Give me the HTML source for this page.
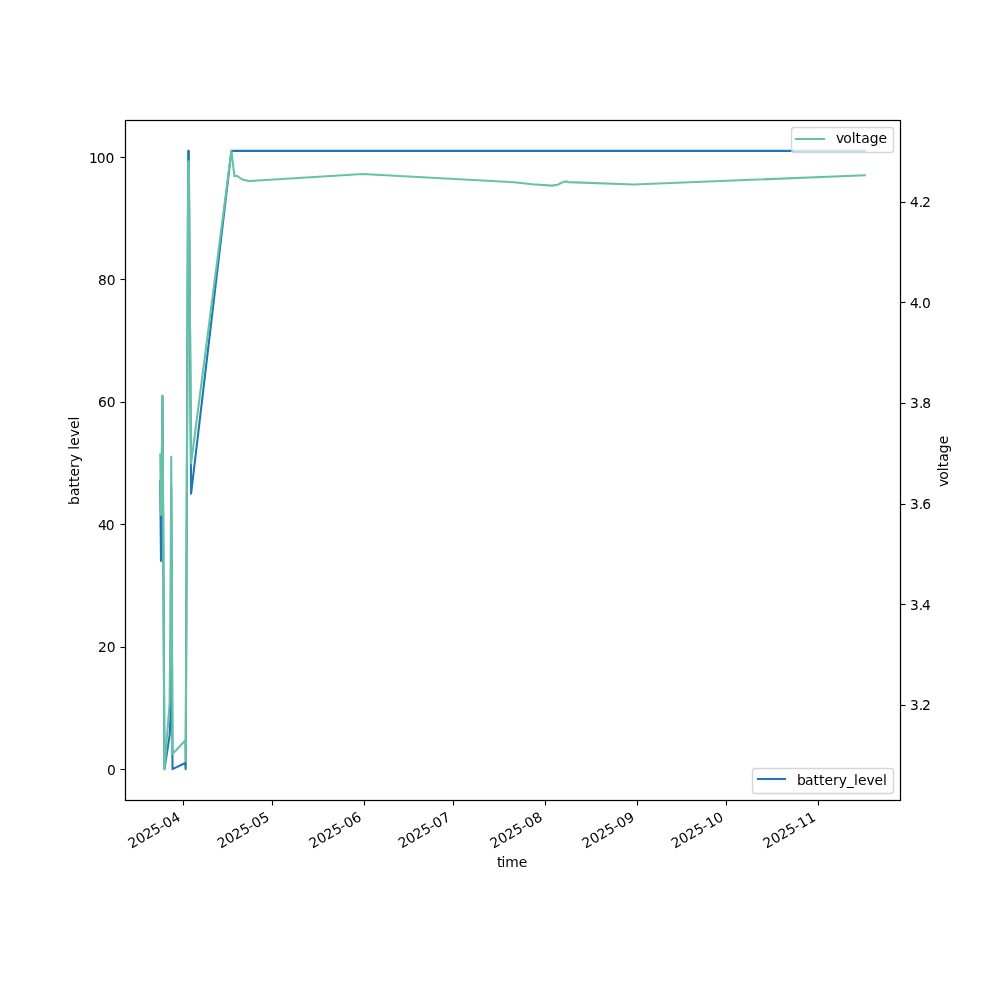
<!DOCTYPE html>
<html lang="en"><head><meta charset="utf-8"><title>battery level / voltage</title>
<style>html,body{margin:0;padding:0;background:#fff;width:1000px;height:1000px;overflow:hidden}svg{display:block}text{font-family:'DejaVu Sans','Liberation Sans',sans-serif;font-size:13.889px;fill:#000}</style>
</head><body>
<svg width="1000" height="1000" viewBox="0 0 1000 1000">
<rect width="1000" height="1000" fill="#fff"/>
<defs><clipPath id="ax"><rect x="125" y="120" width="775" height="680"/></clipPath></defs>
<!-- left / bottom axis -->
<g stroke="#000" stroke-width="1.111" fill="none">
<path d="M183.5 800.5v5.00"/>
<path d="M272.5 800.5v5.00"/>
<path d="M364.5 800.5v5.00"/>
<path d="M453.5 800.5v5.00"/>
<path d="M545.5 800.5v5.00"/>
<path d="M637.5 800.5v5.00"/>
<path d="M726.5 800.5v5.00"/>
<path d="M818.5 800.5v5.00"/>
<path d="M125.5 769.5h-5.00"/>
<path d="M125.5 647.5h-5.00"/>
<path d="M125.5 524.5h-5.00"/>
<path d="M125.5 402.5h-5.00"/>
<path d="M125.5 279.5h-5.00"/>
<path d="M125.5 157.5h-5.00"/>
</g>
<text class="r" transform="translate(131.36 848.77) rotate(-30)" x="0.25 9.06 17.89 26.47 35.05 40.06 48.89">2025-04</text>
<text class="r" transform="translate(220.47 848.76) rotate(-30)" x="0.25 9.06 17.64 26.47 34.8 39.81 48.89">2025-05</text>
<text class="r" transform="translate(312.46 848.74) rotate(-30)" x="0 9.06 17.64 26.47 34.8 40.06 48.89">2025-06</text>
<text class="r" transform="translate(401.33 848.74) rotate(-30)" x="0.5 9.06 17.89 26.72 35.05 40.06 49.14">2025-07</text>
<text class="r" transform="translate(493.37 848.79) rotate(-30)" x="0.25 9.06 17.64 26.47 35.05 40.06 48.89">2025-08</text>
<text class="r" transform="translate(585.38 848.78) rotate(-30)" x="0.25 9.06 17.64 26.47 35.05 40.06 48.89">2025-09</text>
<text class="r" transform="translate(674.48 848.78) rotate(-30)" x="0.25 9.06 17.64 26.47 35.05 40.06 48.89">2025-10</text>
<text class="r" transform="translate(766.38 848.84) rotate(-30)" x="0.25 9.06 17.89 26.47 35.05 40.31 49.14">2025-11</text>
<text x="497.01 501.45 505.29 518.81" y="866.70">time</text>
<text x="106.99" y="774.64">0</text>
<text x="98.06 106.87" y="651.71">20</text>
<text x="97.96 105.77" y="529.61">40</text>
<text x="98.06 106.87" y="406.70">60</text>
<text x="98.12 106.68" y="284.58">80</text>
<text x="89.07 96.64 105.46" y="162.52">100</text>
<text class="r" transform="translate(78.74 460.74) rotate(-90)" x="-44.27 -35.23 -26.73 -21.27 -15.84 -7.3 -1.6 6.62 11.02 14.88 23.41 31.87 40.16">battery level</text>
<!-- battery_level series -->
<g clip-path="url(#ax)"><polyline points="160.23,481.40 161.00,561.00 162.50,395.70 164.45,769.09 169.70,735.00 170.60,714.00 171.25,487.50 172.50,769.09 185.20,763.00 185.70,769.09 188.20,150.90 188.80,150.90 191.10,493.70 231.40,150.90 864.77,150.90" fill="none" stroke="#1f77b4" stroke-width="2.0833" stroke-linejoin="round" stroke-linecap="square"/></g>
<rect x="125.5" y="120.5" width="775" height="680" fill="none" stroke="#000" stroke-width="1.111"/>
<g opacity="0.8"><path d="M755.28 793.50H890.72Q893.50 793.50 893.50 790.72V771.28Q893.50 768.50 890.72 768.50H755.28Q752.50 768.50 752.50 771.28V790.72Q752.50 793.50 755.28 793.50Z" fill="#fff" stroke="#ccc" stroke-width="1.389"/></g>
<rect x="756.96" y="777.96" width="29.08" height="2.08" fill="#1f77b4"/>
<text x="796.96 805.01 813.51 818.96 824.4 832.93 838.63 846.85 854.04 857.88 866.43 874.38 882.93" y="784.56">battery_level</text>
<!-- right axis -->
<g stroke="#000" stroke-width="1.111" fill="none">
<path d="M900.5 705.5h5.00"/>
<path d="M900.5 604.5h5.00"/>
<path d="M900.5 504.5h5.00"/>
<path d="M900.5 403.5h5.00"/>
<path d="M900.5 302.5h5.00"/>
<path d="M900.5 202.5h5.00"/>
</g>
<text x="909.92 918.73 921.91" y="709.51">3.2</text>
<text x="910.01 918.82 922" y="609.64">3.4</text>
<text x="909.97 918.78 922.21" y="508.51">3.6</text>
<text x="910.07 918.88 922.31" y="407.63">3.8</text>
<text x="909.88 917.69 922.12" y="307.63">4.0</text>
<text x="909.96 918.77 921.95" y="206.69">4.2</text>
<text class="r" transform="translate(947.63 461.93) rotate(-90)" x="-25.17 -17.72 -9.23 -5.38 0.31 8.81 17.62">voltage</text>
<!-- voltage series -->
<g clip-path="url(#ax)"><polyline points="160.23,454.60 161.00,515.00 162.50,395.70 164.45,769.09 169.60,703.00 170.40,620.00 171.25,456.90 172.50,754.00 185.20,740.50 185.70,761.00 188.20,161.20 188.80,161.20 191.10,463.50 231.40,150.90 234.40,176.20 236.60,175.70 242.40,179.50 248.40,181.05 362.75,174.05 514.00,182.25 532.00,184.20 552.00,185.60 557.60,184.80 564.00,181.60 567.20,181.50 568.40,182.10 633.60,184.50 864.77,175.30" fill="none" stroke="#66c2a5" stroke-width="2.0833" stroke-linejoin="round" stroke-linecap="square"/></g>
<rect x="125.5" y="120.5" width="775" height="680" fill="none" stroke="#000" stroke-width="1.111"/>
<g opacity="0.8"><path d="M794.28 152.50H890.72Q893.50 152.50 893.50 149.72V130.28Q893.50 127.50 890.72 127.50H794.28Q791.50 127.50 791.50 130.28V149.72Q791.50 152.50 794.28 152.50Z" fill="#fff" stroke="#ccc" stroke-width="1.389"/></g>
<rect x="794.96" y="137.96" width="30.08" height="2.08" fill="#66c2a5"/>
<text x="836.07 843.28 851.76 855.62 861.31 869.81 878.62" y="142.60">voltage</text>
</svg></body></html>
